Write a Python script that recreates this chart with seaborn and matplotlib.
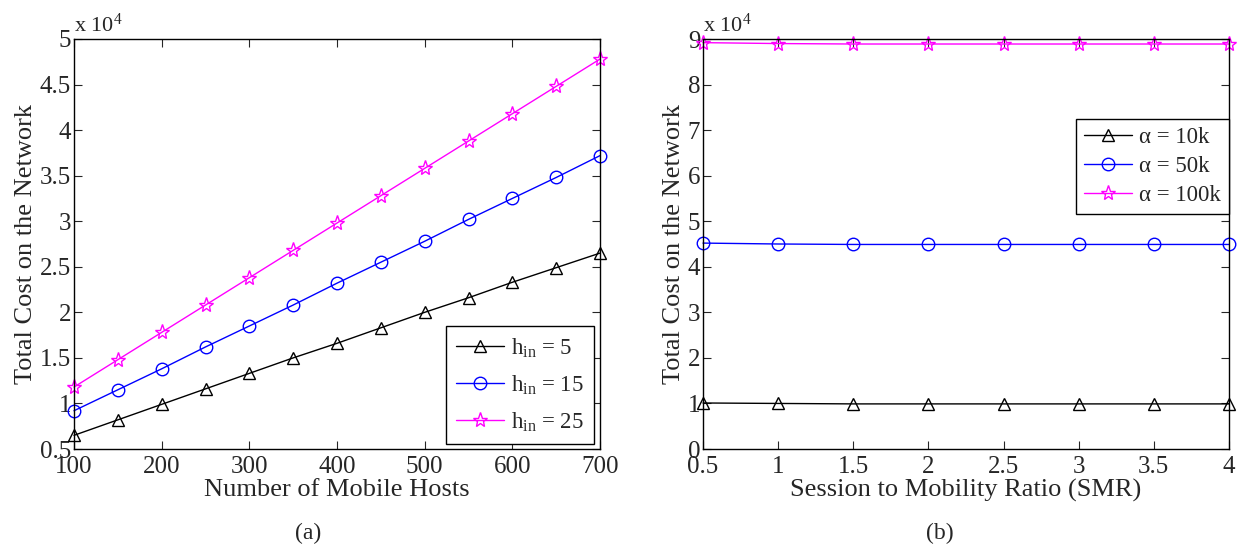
import matplotlib
matplotlib.use("Agg")
import matplotlib.pyplot as plt
import seaborn as sns
import numpy as np

# ---- data (a) ----
hosts = [100, 150, 200, 250, 300, 350, 400, 450, 500, 550, 600, 650, 700]
cost_h5 = [6500, 8200, 9900, 11600, 13300, 15000, 16600, 18300, 20000, 21600, 23300, 24900, 26500]
cost_h15 = [9200, 11500, 13800, 16200, 18500, 20800, 23200, 25500, 27800, 30200, 32500, 34800, 37200]
cost_h25 = [11800, 14800, 17800, 20800, 23800, 26800, 29800, 32800, 35800, 38800, 41800, 44800, 47800]
labels_a = [r"h$_{\rm in}$ = 5", r"h$_{\rm in}$ = 15", r"h$_{\rm in}$ = 25"]

# ---- data (b) ----
smr = [0.5, 1.0, 1.5, 2.0, 2.5, 3.0, 3.5, 4.0]
cost_a10 = [10100, 10000, 9900, 9900, 9900, 9900, 9900, 9900]
cost_a50 = [45200, 45000, 44900, 44900, 44900, 44900, 44900, 44900]
cost_a100 = [89200, 89000, 88900, 88900, 88900, 88900, 88900, 88900]
labels_b = ["α = 10k", "α = 50k", "α = 100k"]

colors = ["black", "#0000FF", "#FF00FF"]
markers = ["^", "o", "*"]

sns.set_style("ticks")
plt.rcParams["font.family"] = ["Liberation Serif", "DejaVu Serif"]
plt.rcParams["mathtext.fontset"] = "custom"
plt.rcParams["mathtext.rm"] = "Liberation Serif"
plt.rcParams["mathtext.it"] = "Liberation Serif:italic"
plt.rcParams["xtick.direction"] = "in"
plt.rcParams["ytick.direction"] = "in"

fig = plt.figure(figsize=(12.39, 5.46), dpi=100)
axA = fig.add_axes([74 / 1239, 97 / 546, 526 / 1239, 410 / 546])
axB = fig.add_axes([703 / 1239, 97 / 546, 526 / 1239, 410 / 546])

FS = 18


def draw(ax, x, series, labels, msizes):
    for y, lab, c, m, ms in zip(series, labels, colors, markers, msizes):
        sns.lineplot(x=x, y=y, ax=ax, color=c, marker=m, markersize=ms,
                     markerfacecolor="none", markeredgecolor=c, markeredgewidth=1.0,
                     linewidth=1.0, label=lab, clip_on=False)


draw(axA, hosts, [cost_h5, cost_h15, cost_h25], labels_a, [9, 9, 11])
draw(axB, smr, [cost_a10, cost_a50, cost_a100], labels_b, [9, 9, 11])

# axis A
axA.set_xlim(100, 700)
axA.set_ylim(5000, 50000)
axA.set_xticks(np.arange(100, 701, 100))
yt = np.arange(5000, 50001, 5000)
axA.set_yticks(yt)
axA.set_yticklabels([f"{v/1e4:g}" for v in yt])
axA.set_xlabel("Number of Mobile Hosts", fontsize=FS + 1, labelpad=1)
axA.set_ylabel("Total Cost on the Network", fontsize=FS + 1, labelpad=2)

# axis B
axB.set_xlim(0.5, 4)
axB.set_ylim(0, 90000)
axB.set_xticks(smr)
axB.set_xticklabels([f"{v:g}" for v in smr])
yt2 = np.arange(0, 90001, 10000)
axB.set_yticks(yt2)
axB.set_yticklabels([f"{v/1e4:g}" for v in yt2])
axB.set_xlabel("Session to Mobility Ratio (SMR)", fontsize=FS + 1, labelpad=1)
axB.set_ylabel("Total Cost on the Network", fontsize=FS + 1, labelpad=2)

for ax in (axA, axB):
    ax.tick_params(axis="both", which="both", direction="in", top=True, right=True,
                   labelsize=FS, length=6, width=0.8)
    ax.tick_params(axis="x", pad=5)
    ax.tick_params(axis="y", pad=2)
    for s in ax.spines.values():
        s.set_visible(True)
        s.set_linewidth(1.0)
        s.set_color("black")
    ax.text(0.0, 1.005, r"x 10$^{4}$", transform=ax.transAxes, ha="left", va="bottom",
            fontsize=FS - 2)

legA = axA.legend(loc="lower right", bbox_to_anchor=(0.989, 0.012), fontsize=16.5,
                  frameon=True, fancybox=False, edgecolor="black", framealpha=1,
                  handlelength=2.1, handletextpad=0.3, borderpad=0.45, labelspacing=0.6,
                  borderaxespad=0)
legA.get_frame().set_linewidth(1.0)
legB = axB.legend(loc="upper right", bbox_to_anchor=(1.0, 0.805), fontsize=16.5,
                  frameon=True, fancybox=False, edgecolor="black", framealpha=1,
                  handlelength=2.1, handletextpad=0.3, borderpad=0.35, labelspacing=0.35,
                  borderaxespad=0)
legB.get_frame().set_linewidth(1.0)

fig.text(308 / 1239, 13 / 546, "(a)", ha="center", va="center", fontsize=FS - 1)
fig.text(940 / 1239, 13 / 546, "(b)", ha="center", va="center", fontsize=FS - 1)

fig.savefig("out.png", dpi=100)
